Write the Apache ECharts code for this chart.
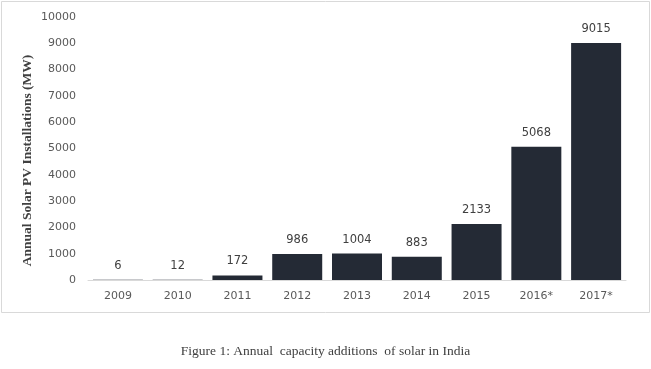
<!DOCTYPE html>
<html>
<head>
<meta charset="utf-8">
<script src="https://cdn.jsdelivr.net/npm/echarts@6/dist/echarts.min.js"></script>
<style>
html,body{margin:0;padding:0;background:#fff;}
#c{width:651px;height:369px;}
</style>
</head>
<body>
<div id="c"></div>
<script>
var categories = ['2009','2010','2011','2012','2013','2014','2015','2016*','2017*'];
var values = [6, 12, 172, 986, 1004, 883, 2133, 5068, 9015];
var yTitle = 'Annual Solar PV Installations (MW)';
var caption = 'Figure 1: Annual  capacity additions  of solar in India';

var chart = echarts.init(document.getElementById('c'), null, {renderer:'canvas'});
chart.setOption({
  animation: false,
  backgroundColor: '#fff',
  grid: {left: 88, right: 25, top: 17, bottom: 89},
  xAxis: {
    type: 'category',
    data: categories,
    axisLine: {lineStyle: {color: '#d9d9d9', width: 1}},
    axisTick: {show: false},
    axisLabel: {color: '#595959', fontSize: 11, fontFamily: 'DejaVu Sans', margin: 11}
  },
  yAxis: {
    type: 'value',
    min: 0, max: 10000, interval: 1000,
    splitLine: {show: false},
    axisLine: {show: false},
    axisTick: {show: false},
    axisLabel: {color: '#595959', fontSize: 11, fontFamily: 'DejaVu Sans', margin: 12,
      formatter: function (v) { return String(v); }},
    name: yTitle,
    nameLocation: 'middle',
    nameGap: 53,
    nameMoveOverlap: false,
    nameTextStyle: {color: '#404040', fontSize: 13.5, fontWeight: 'bold', fontFamily: 'Liberation Serif', padding: [0, 24, 0, 0]}
  },
  series: [{
    type: 'bar',
    data: values,
    barWidth: 50,
    itemStyle: {color: '#242a35'},
    label: {show: true, position: 'top', distance: 8, color: '#404040', fontSize: 11.5, fontFamily: 'DejaVu Sans'}
  }],
  graphic: [
    {type: 'rect', shape: {x: 1.5, y: 1.5, width: 648, height: 311}, style: {fill: 'none', stroke: '#d9d9d9', lineWidth: 1}, silent: true},
    {type: 'text', left: 'center', top: 344, style: {text: caption, fill: '#404040', fontSize: 13.5, fontFamily: 'Liberation Serif'}}
  ]
});
</script>
</body>
</html>
